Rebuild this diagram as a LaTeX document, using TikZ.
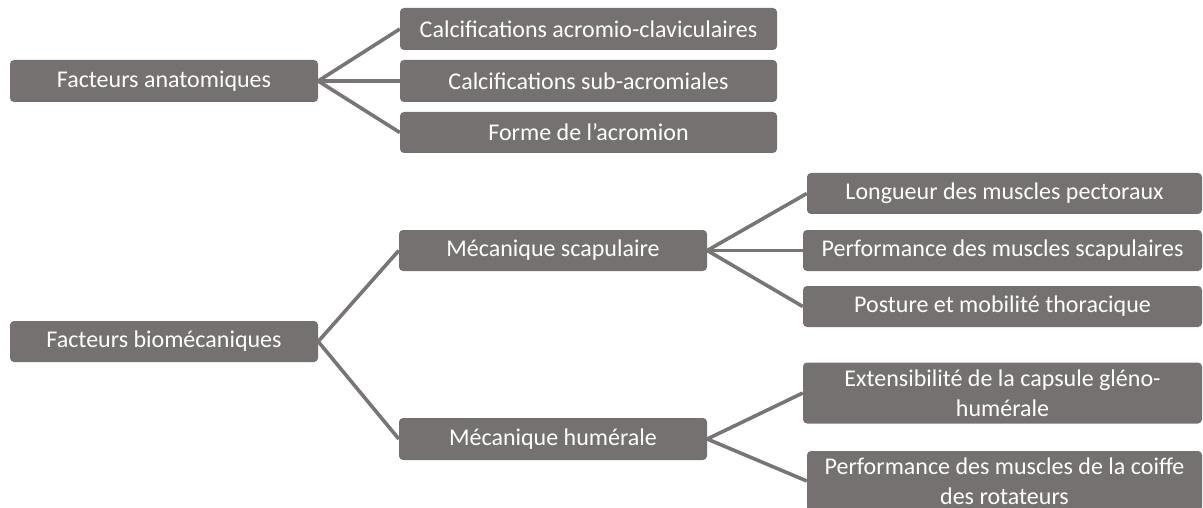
\documentclass[tikz,border=0pt]{standalone}
\usepackage{fontspec}
\setmainfont{Carlito}
\definecolor{boxgray}{HTML}{767171}
\definecolor{linegray}{HTML}{7A7575}
\tikzset{
  gbox/.style={rectangle, rounded corners=4pt, fill=boxgray, text=white, inner sep=0pt,
    align=center, font=\fontsize{24}{30}\selectfont},
  conn/.style={draw=linegray, line width=3.6pt}
}
\begin{document}
\begin{tikzpicture}[x=1pt,y=-1pt]
\useasboundingbox (0,0) rectangle (1203,508);
% level 1
\node[gbox, minimum width=308pt, minimum height=42pt] (fa) at (164,81) {Facteurs anatomiques};
\node[gbox, minimum width=308pt, minimum height=41pt] (fb) at (164,341.5) {Facteurs biomécaniques};
% children of fa
\node[gbox, minimum width=377pt, minimum height=42pt] (c1) at (588.5,29) {Calcifications acromio-claviculaires};
\node[gbox, minimum width=377pt, minimum height=42pt] (c2) at (588.5,81) {Calcifications sub-acromiales};
\node[gbox, minimum width=377pt, minimum height=41pt] (c3) at (588.5,132.5) {Forme de l’acromion};
% children of fb
\node[gbox, minimum width=308pt, minimum height=41pt] (ms) at (553,250.5) {Mécanique scapulaire};
\node[gbox, minimum width=308pt, minimum height=42pt] (mh) at (553,439) {Mécanique humérale};
% children of ms
\node[gbox, minimum width=395pt, minimum height=41pt] (l1) at (1004.5,193.5) {Longueur des muscles pectoraux};
\node[gbox, minimum width=399pt, minimum height=41pt] (l2) at (1002.5,250.5) {Performance des muscles scapulaires};
\node[gbox, minimum width=399pt, minimum height=41pt] (l3) at (1002.5,306.5) {Posture et mobilité thoracique};
% children of mh
\node[gbox, minimum width=399pt, minimum height=61pt] (e1) at (1002.5,393) {Extensibilité de la capsule gléno-\\humérale};
\node[gbox, minimum width=395pt, minimum height=60pt] (e2) at (1004.5,481) {Performance des muscles de la coiffe\\des rotateurs};
% connectors
\foreach \a/\b in {fa/c1, fa/c2, fa/c3, fb/ms, fb/mh, ms/l1, ms/l2, ms/l3, mh/e1, mh/e2}
  \draw[conn] (\a.east) -- (\b.west);
\end{tikzpicture}
\end{document}
